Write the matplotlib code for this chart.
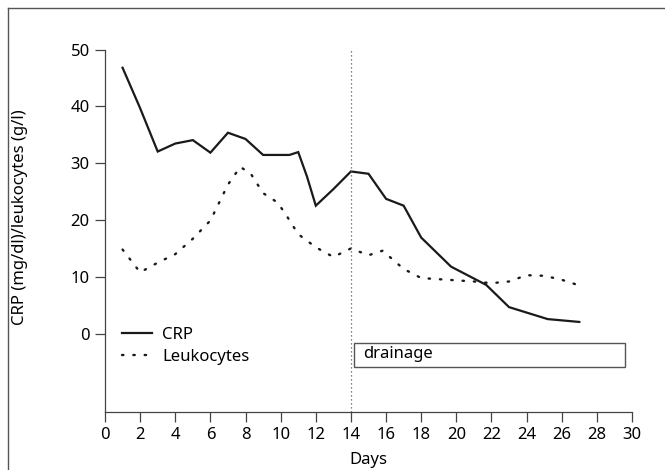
import matplotlib
matplotlib.use("Agg")
import matplotlib.pyplot as plt
from matplotlib.patches import Rectangle
from matplotlib.lines import Line2D

crp_days = [1, 2, 3, 4, 5, 6, 7, 8, 9, 10.5, 11, 11.5, 12, 13, 14, 15, 16, 17, 18, 19.7, 21.7, 23, 25.2, 27]
crp_vals = [46.8, 39.7, 32.1, 33.5, 34.1, 31.9, 35.4, 34.3, 31.5, 31.5, 32.0, 27.7, 22.6, 25.5, 28.6, 28.2, 23.8, 22.6, 17.0, 11.9, 8.7, 4.8, 2.7, 2.2]

leu_days = [1, 2, 3, 4, 5, 6, 7, 7.7, 8.3, 9, 9.8, 10.2, 11, 12, 13, 14, 15, 15.8, 17, 18, 19, 20, 21, 22, 23, 24, 25, 26, 27]
leu_vals = [14.9, 10.9, 12.6, 14.1, 16.8, 20.0, 26.3, 29.4, 28.2, 24.8, 23.2, 21.5, 17.6, 15.3, 13.6, 15.1, 13.9, 14.7, 11.5, 9.9, 9.7, 9.5, 9.3, 9.0, 9.3, 10.4, 10.3, 9.6, 8.6]

x_ticks = list(range(0, 31, 2))
y_ticks = [0, 10, 20, 30, 40, 50]
drain_start, drain_end = 14.2, 29.6
event_day = 14

plt.rcParams['font.family'] = ['Noto Sans', 'DejaVu Sans']

fig = plt.figure(figsize=(6.65, 4.70), dpi=100)
ax = fig.add_axes([105/665, 1-412/470, (632-105)/665, (412-49.5)/470])

spine_c = '#444444'
ax.plot(crp_days, crp_vals, color='#1a1a1a', lw=1.6, solid_joinstyle='miter', label='CRP')
ax.plot(leu_days, leu_vals, color='#1a1a1a', lw=1.7, linestyle=(0, (0.6, 4.2)),
        dash_capstyle='round', label='Leukocytes')
ax.axvline(event_day, color='#555555', lw=0.9, linestyle=(0, (1, 2.2)))

ax.add_patch(Rectangle((drain_start, -5.65), drain_end - drain_start, 4.2,
                       facecolor='white', edgecolor='#555555', lw=1.0, zorder=3))
ax.text(drain_start + 0.5, -3.5, 'drainage', fontsize=12, va='center', ha='left', zorder=4)

ax.set_xlim(0, 30)
ax.set_ylim(-13.6, 50)
ax.set_xticks(x_ticks)
ax.set_yticks(y_ticks)
ax.tick_params(axis='both', labelsize=12, length=7, width=0.9, color=spine_c, pad=4)
for s in ['top', 'right']:
    ax.spines[s].set_visible(False)
for s in ['left', 'bottom']:
    ax.spines[s].set_color(spine_c)
    ax.spines[s].set_linewidth(0.9)
ax.spines['left'].set_bounds(-13.6, 50)

ax.set_xlabel('Days', fontsize=12, labelpad=6)
fig.text(20/665, 1-217/470, 'CRP (mg/dl)/leukocytes (g/l)', rotation=90, fontsize=12,
         ha='center', va='center')

leg = ax.legend(loc='upper left', bbox_to_anchor=(0.0195, 0.254), frameon=False, fontsize=12,
                handlelength=1.8, handletextpad=0.6, labelspacing=0.38, borderaxespad=0.0)

# outer frame (left and top edges)
fig.add_artist(Line2D([7.5/665, 7.5/665], [0, 1-7.5/470], transform=fig.transFigure,
                      color='#555555', lw=1.0))
fig.add_artist(Line2D([7.5/665, 1], [1-7.5/470, 1-7.5/470], transform=fig.transFigure,
                      color='#555555', lw=1.0))

fig.savefig('out.png', dpi=100)
